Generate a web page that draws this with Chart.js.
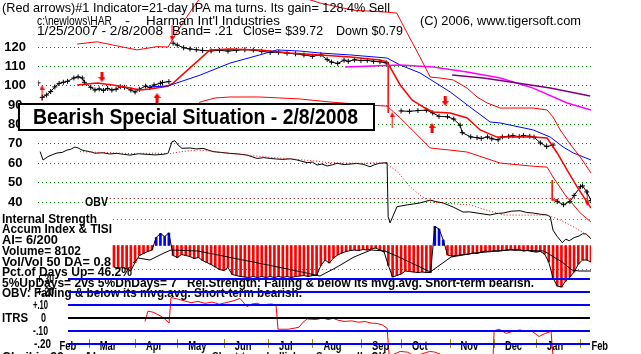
<!DOCTYPE html>
<html>
<head>
<meta charset="utf-8">
<script src="https://cdn.jsdelivr.net/npm/chart.js@4.4.1/dist/chart.umd.min.js"></script>
<style>
  html, body { margin: 0; padding: 0; background: #fff; }
</style>
</head>
<body>
<canvas id="chart" width="641" height="354"></canvas>
<script>
const FONT = '"Liberation Sans", Arial, sans-serif';

// x values are trading days counted from 1/25/2007 (0) to 2/8/2008 (262)
const months = ['Feb', 'Mar', 'Apr', 'May', 'Jun', 'Jul', 'Aug', 'Sep', 'Oct', 'Nov', 'Dec', 'Jan', 'Feb'];
const monthStarts = [5, 24, 46, 66, 88, 109, 130, 153, 172, 195, 216, 236, 257];

const priceTicks = [40, 50, 60, 70, 80, 90, 100, 110, 120];
const itrsTicks = [0.3, 0.2, 0.1, 0, -0.1, -0.2];
const itrsTickLabels = ['+.30', '+.20', '+.10', '0', '-.10', '-.20'];

// daily price (null = gap between bars)
const pricePoints = [
  [0, 101.5], [1, null], [2, 94], [4, 95.2], [6, 97], [8, 99.4], [10, 101.2], [12, 101.8], [14, 102.3],
  [17, 104], [19, 104.6], [21, 104], [22, 101.8], [25, 99.2], [27, 97.8], [29, 98.4], [31, 97.6],
  [33, 98.6], [35, 97.8], [37, 98.2], [39, 99.5], [41, 99.2], [44, 97.8], [46, 96.8], [48, 98.2],
  [51, 99.8], [53, 99.1], [55, 100.4], [58, 101.3], [59, 101.7], [62, 102.1], [62.5, null],
  [64, 122], [66, 121], [69, 119.6], [72, 119], [75, 118.6], [78, 118.2], [82, 118], [86, 118.3],
  [90, 117.9], [94, 118.3], [98, 118.6], [102, 118.4], [106, 117.8], [110, 117.2], [114, 117.3],
  [118, 116.8], [122, 116.5], [126, 115.9], [130, 115.2], [134, 116], [137, 113.5], [139, 112.2],
  [142, 111.5], [145, 113.2], [147, 112.6], [150, 113.4], [153, 113], [156, 113.1], [159, 112.6],
  [162, 112.4], [165, 111.8], [166, null],
  [172, 87], [176, 86.8], [180, 87.2], [184, 87.4], [187, 86], [190, 84.2], [194, 84], [197, 82.8],
  [200, 79.6], [201, 75.8], [205, 73.6], [208, 73.2], [210, 72.8], [213, 73.6], [215, 72.6],
  [218, 72.1], [220, 73.6], [223, 73.9], [225, 74.2], [228, 73.8], [230, 74.3], [233, 73.9],
  [235, 73.5], [238, 70.5], [241, 68.6], [244, 69.4], [245, null],
  [246, 40.2], [249, 38.6], [252, 40.2], [254, 43.4], [257, 47.9], [258, 48.3], [260, 45.2], [262, 40.8]
];

// 21-day ma and its +/- .21 band
const maPoints = [
  [18.5, 100.4], [28, 101.4], [35.5, 100.4], [43.6, 98.8], [48.3, 97.8], [53, 98.3], [59.2, 99.4],
  [61.6, 99.9], [64, 101.4], [72, 109.2], [81.5, 118.5], [91, 119], [105, 118.5], [119.4, 116.9],
  [133.6, 115.9], [148, 114.8], [162, 113.3], [165.4, 112.3], [171.6, 100.4], [177.3, 92.6],
  [183.4, 88.5], [187.2, 86.5], [195.3, 85.9], [203.3, 83.4], [209.5, 77.2], [217.5, 73.5],
  [226, 73.5], [234.6, 73.5], [241.2, 73], [246, 65.3], [250.7, 56.5], [255.5, 47.7], [262, 36.9]
];
const upperPoints = [
  [18.5, 121.5], [28, 122.7], [35.5, 121], [47, 118.5], [56.4, 120.2], [61.6, 120], [66.4, 128.8],
  [72, 138], [76.8, 145.3], [91, 148.4], [105, 148], [124, 146], [133.6, 142.7], [149.3, 139],
  [165.4, 138], [170, 137.5], [174.9, 127.2], [181, 114.8], [185.8, 104.5], [190.5, 104],
  [196.7, 103], [203.3, 98.8], [208, 94.2], [212.8, 91.1], [219, 88.5], [234.6, 88.5], [241.2, 87.5],
  [244, 83.9], [247.4, 77.2], [252.1, 69.9], [256.9, 63.2], [262, 55]
];
const lowerPoints = [
  [18.5, 79.2], [35.5, 78.2], [53, 79.2], [62.6, 79.7], [72, 84.9], [76.8, 91.6], [83.9, 93.7],
  [91, 94.2], [105, 94.2], [124, 93.2], [138.4, 91.6], [157.3, 90], [165.4, 89.5], [171.6, 83.4],
  [185.8, 67.9], [195.3, 66.8], [203.3, 65.8], [219, 60.1], [233, 58.6], [241.2, 58], [244, 52.9],
  [249.8, 43.6], [256.9, 34.3], [262, 29.7]
];
const blueMaPoints = [
  [53, 99.4], [61.6, 99.9], [76.8, 105.5], [91, 111.7], [105, 115.9], [113.3, 118.5], [124.2, 117.9],
  [133.6, 116.9], [148, 115.9], [165.4, 114.3], [171.6, 110.7], [181, 106.6], [195.3, 96.8],
  [204.7, 89], [214.2, 81.3], [219, 80.8], [234.6, 77.2], [242.7, 73.5], [248.8, 68.4],
  [253.6, 65.3], [262, 61.7]
];
const magentaMaPoints = [
  [145.5, 109.7], [171.6, 110.7], [187.2, 109.7], [203.3, 107.1], [219, 104], [234.6, 98.8],
  [250.7, 91.1], [262, 87.5]
];
const purpleMaPoints = [
  [196.2, 105.5], [211, 104], [227, 101.4], [242.7, 98.8], [261.6, 94.7]
];

// OBV (scaled to the price axis) and its moving average
const obvPoints = [
  [1, 66], [2.4, 61.7], [4.7, 63.4], [7, 64.5], [9, 65.3], [11.5, 65.6], [13.7, 66.8], [15.5, 67.2],
  [17.5, 68.4], [19, 67.9], [20.9, 66.8], [22.5, 66.4], [24.6, 66], [27, 65.2], [30.8, 65.4],
  [34, 64.8], [37.4, 65.1], [40.5, 64.6], [43.6, 64.2], [47.6, 64.9], [51.7, 64.6], [55.5, 64.3],
  [59.2, 64.6], [61.6, 65.1], [63.5, 71.1], [64.9, 71.6], [66.4, 69.4], [68.2, 67.7], [72, 67.9],
  [75, 67.4], [78.2, 67.7], [82.9, 66], [86.5, 65.6], [91, 65.1], [95, 64.8], [99, 64.2],
  [103.8, 62.5], [107, 62.9], [110, 62.5], [113, 62.2], [116, 62], [119.5, 62.3], [122.7, 61.7],
  [127.5, 60.3], [130, 60.6], [132.2, 59.1], [134.5, 59.6], [137, 58.6], [139.5, 59.2], [141.7, 60],
  [145, 59.3], [147.9, 59.6], [151, 59.9], [154, 59.5], [157.3, 58.2], [159.5, 59.3], [162, 60],
  [165.4, 60.3], [165.9, 32.4], [166.8, 29.2], [170.1, 37.6], [174.9, 38.5], [178, 39], [181, 39.5],
  [185.8, 41], [188.5, 40.2], [191.9, 39.5], [196.7, 37.4], [201.4, 34.8], [204.5, 34.9], [208, 34.3],
  [214.2, 33.3], [217.5, 34.1], [220.4, 34.3], [224.5, 35.3], [228.4, 35.5], [231.5, 34.6],
  [234.6, 34.3], [238, 33.7], [241.2, 33.3], [242.7, 32.4], [244, 25.5], [246, 22.2], [248.4, 19],
  [250, 20.8], [251.7, 20], [254, 21.6], [256.4, 22.5], [258, 23.6], [259.7, 23.5], [262, 21]
];
const obvMaPoints = [
  [19.9, 66], [30, 65.6], [43.6, 65], [55, 65.2], [62.6, 65], [68, 66], [75.4, 66.8], [83, 66.2],
  [91, 65], [98, 64.4], [106.6, 63.4], [114, 62.7], [122.7, 62], [130, 61.3], [138.4, 60.3],
  [146, 60.1], [154, 60], [160, 60.2], [164.5, 60], [170, 56], [176.3, 47.9], [181, 43.5],
  [185.8, 40], [195, 39.2], [204.7, 38.5], [212, 36], [220.4, 33.3], [230, 33.2], [241.2, 33.3],
  [247.4, 30.7], [254, 27], [261.6, 22]
];

// Accumulation index, every 2nd trading day from day 36
const aiStart = 36;
const aiStep = 2;
const aiValues = [
  -0.215, -0.23, -0.22, -0.235, -0.25, -0.17, -0.10, -0.08, -0.06, -0.045,
  0.08, 0.12, 0.09, 0.125, -0.10, -0.12, -0.09, -0.10, -0.11, -0.13,
  -0.12, -0.15, -0.17, -0.19, -0.215, -0.24, -0.25, -0.22, -0.29, -0.30,
  -0.31, -0.315, -0.32, -0.31, -0.32, -0.31, -0.32, -0.31, -0.32, -0.31,
  -0.32, -0.31, -0.32, -0.31, -0.305, -0.30, -0.31, -0.30, -0.30, -0.20,
  -0.145, -0.175, -0.125, -0.095, -0.075, -0.06, -0.05, -0.045, -0.05, -0.04,
  -0.045, -0.035, -0.025, -0.045, -0.065, -0.20, -0.315, -0.30, -0.285, -0.255,
  -0.26, -0.265, -0.27, -0.265, -0.27, -0.27, 0.19, 0.165, 0.055, -0.095,
  -0.105, -0.10, -0.095, -0.09, -0.085, -0.075, -0.08, -0.065, -0.055, -0.06,
  -0.05, -0.055, -0.05, -0.045, -0.04, -0.045, -0.04, -0.055, -0.05, -0.06,
  -0.065, -0.06, -0.085, -0.165, -0.325, -0.405, -0.415, -0.355, -0.315, -0.265,
  -0.185, -0.145, -0.145, -0.165
];
const tisiPoints = [
  [45, -0.175], [47.4, -0.125], [53, -0.145], [59.7, -0.075], [63, -0.045], [75.8, -0.055],
  [92.4, -0.125], [109, -0.195], [125, -0.265], [133.6, -0.305], [141.7, -0.215], [149.7, -0.115],
  [157.8, -0.045], [164.4, -0.055], [171, -0.115], [181, -0.215], [185.8, -0.265], [189.1, -0.215],
  [195.7, -0.115], [207, -0.075], [223.6, -0.045], [239.7, -0.055], [248.3, -0.165], [253, -0.245],
  [256.4, -0.255], [262, -0.255]
];

// ITRS (relative strength)
const itrsPoints = [
  [50.7, -0.024], [52.1, 0.055], [54.5, 0.047], [57.8, 0.02], [59.7, 0], [62.1, -0.037],
  [63, 0.16], [66.4, 0.147], [72.5, 0.12], [75.8, 0.13], [79.1, 0.115], [82.5, 0.125], [85.8, 0.108],
  [89.1, 0.12], [92.4, 0.134], [95.7, 0.153], [99, 0.09], [101.4, 0.11], [103.8, 0.116], [106.2, 0.1],
  [109, 0.108], [110.9, 0.11], [112.8, 0.1], [113.7, -0.084], [118.5, -0.084], [121.8, -0.075],
  [123.7, -0.068], [125.6, -0.03], [127.5, -0.005], [131.8, -0.01], [135, 0.003], [137.4, -0.01],
  [139.8, 0], [142.2, -0.015], [145, -0.024], [148.8, -0.02], [151.7, -0.03], [155, -0.025],
  [157.8, -0.037], [160.7, -0.04], [163, -0.05], [165.4, -0.076], [166.4, -0.29], [168, -0.28],
  [171.6, -0.255], [175, -0.26], [178.5, -0.29], [185.6, -0.255], [188, -0.26], [192.7, -0.29],
  [209.5, -0.3], [215.6, -0.3], [216.1, -0.095], [218.5, -0.084], [221.8, -0.116], [225.1, -0.1],
  [228.4, -0.09], [230.8, -0.1], [233.6, -0.095], [237.4, -0.14], [239.8, -0.12], [243.1, -0.1],
  [244.1, -0.32]
];

// signal markers (red arrows)
const arrowDown = [[30.3, 104.5], [192.9, 92.1]];
const arrowUp = [[56.4, 93.7], [186.7, 78.2]];
const thinDown = [[63.5, 127.2], [260.2, 42]];
const thinUp = [[1.9, 96.3], [167.8, 82.3]];
const signalLines = [[165.9, 112.3], [165.9, 86], [166, null], [243.6, 51.4], [243.6, 41], [246.5, 41]];

const pts = arr => arr.map(([x, y]) => ({ x, y }));

function arrowCanvas(up, thin) {
  const c = document.createElement('canvas');
  c.width = thin ? 5 : 7;
  c.height = thin ? 16 : 10;
  const g = c.getContext('2d');
  g.fillStyle = '#ff0000';
  if (up) { g.translate(0, c.height); g.scale(1, -1); }
  if (thin) {
    g.fillRect(2, 0, 1, 12);
    g.beginPath(); g.moveTo(0, 11); g.lineTo(5, 11); g.lineTo(2.5, 16); g.fill();
  } else {
    g.fillRect(2, 0, 3, 6);
    g.beginPath(); g.moveTo(0, 5); g.lineTo(7, 5); g.lineTo(3.5, 10); g.fill();
  }
  return c;
}

function fitText(ctx, s, x, y, w, size, bold) {
  ctx.save();
  ctx.font = (bold ? 'bold ' : '') + size + 'px ' + FONT;
  ctx.fillStyle = '#000';
  ctx.textBaseline = 'middle';
  ctx.textAlign = 'left';
  const m = ctx.measureText(s).width;
  ctx.translate(x, y);
  ctx.scale(w / m, 1);
  ctx.fillText(s, 0, 0);
  ctx.restore();
}

// text placed on the picture: [text, x, y, width, size, bold]
const notes = [
  ['(Red arrows)#1 Indicator=21-day IPA ma turns. Its gain= 128.4% Sell', 2, 8, 388, 13, false],
  ['c:\\newlows\\HAR', 37, 21, 75, 13, false],
  ['-', 125, 21, 5, 13, false],
  ["Harman Int'l Industries", 146, 21, 134, 13, false],
  ['1/25/2007 - 2/8/2008', 37, 31, 126, 13, false],
  ['Band= .21', 172, 31, 61, 13, false],
  ['Close= $39.72', 243, 31, 80, 13, false],
  ['Down $0.79', 336, 31, 67, 13, false],
  ['(C) 2006, www.tigersoft.com', 420, 21, 161, 13, false],
  ['OBV', 85, 202, 23, 13, true],
  ['Internal Strength', 2, 219, 95, 13, true],
  ['Accum Index & TISI', 2, 229, 110, 13, true],
  ['AI= 6/200', 2, 240, 56, 13, true],
  ['Volume= 8102', 2, 251, 79, 13, true],
  ['Vol/Vol 50 DA= 0.8', 2, 262, 109, 13, true],
  ['Pct.of Days Up= 46.2%', 2, 272, 130, 13, true],
  ['5%UpDays= 2vs 5%DnDays= 7', 2, 283, 175, 13, true],
  ['Rel.Strength: Falling & below its mvg.avg. Short-term bearish.', 187, 283, 347, 13, true],
  ['OBV: Falling & below its mvg.avg. Short-term bearish.', 2, 293, 300, 13, true],
  ['ITRS', 2, 318, 26, 13, true],
  ['Chaikin 20', 2, 357, 62, 13, true],
  ['Al', 84, 357, 12, 13, true],
  ['Short-term bullish.', 212, 357, 90, 13, true],
  ['Seasonally OK', 316, 357, 70, 13, true]
];
const itrsLabelRight = [54, 54, 48, 46, 48, 51];
const itrsLabelWidth = [17, 17, 15, 5, 15, 17];

const dottedRefs = [
  { axis: 'y', value: 42.06, from: 34, to: 262, color: '#800000' },
  { axis: 'yAI', value: 0.265, from: 35.5, to: 262, color: '#707070' },
  { axis: 'yAI', value: -0.235, from: 43.6, to: 262, color: '#a06060' }
];

const tigerPlugin = {
  id: 'tiger',
  beforeDatasetsDraw(chart) {
    const { ctx, scales } = chart;
    dottedRefs.forEach(r => {
      const y = Math.round(scales[r.axis].getPixelForValue(r.value)) + 0.5;
      ctx.save();
      ctx.strokeStyle = r.color;
      ctx.lineWidth = 1;
      ctx.setLineDash([1, 3]);
      ctx.beginPath();
      ctx.moveTo(scales.x.getPixelForValue(r.from), y);
      ctx.lineTo(scales.x.getPixelForValue(r.to), y);
      ctx.stroke();
      ctx.restore();
    });
  },
  afterDatasetsDraw(chart) {
    const { ctx, scales } = chart;
    const xs = scales.x;

    // the headline box
    ctx.save();
    ctx.fillStyle = '#fff';
    ctx.fillRect(19, 104, 355, 26);
    ctx.strokeStyle = '#000';
    ctx.lineWidth = 2;
    ctx.strokeRect(19, 104, 355, 26);
    ctx.restore();
    fitText(ctx, 'Bearish Special Situation - 2/8/2008', 33, 118, 325, 22, true);

    notes.forEach(n => fitText(ctx, ...n));

    // ITRS scale labels
    itrsTicks.forEach((v, i) => {
      const y = scales.yItrs.getPixelForValue(v);
      fitText(ctx, itrsTickLabels[i], itrsLabelRight[i] - itrsLabelWidth[i], y, itrsLabelWidth[i], 13, true);
    });

    // month labels and ticks
    months.forEach((m, i) => {
      const px = xs.getPixelForValue(monthStarts[i]);
      ctx.save();
      ctx.font = 'bold 13px ' + FONT;
      ctx.fillStyle = '#000';
      ctx.textBaseline = 'middle';
      ctx.translate(px + 11, 346);
      ctx.scale(0.72, 1);
      ctx.fillText(m, 0, 0);
      ctx.restore();
      if (i > 0) {
        ctx.save();
        ctx.strokeStyle = '#a09000';
        ctx.lineWidth = 1;
        ctx.beginPath();
        ctx.moveTo(Math.round(px) + 0.5, 339);
        ctx.lineTo(Math.round(px) + 0.5, 348);
        ctx.stroke();
        ctx.restore();
      }
    });

    // ITRS level lines
    const x0 = xs.getPixelForValue(14.2), x1 = xs.getPixelForValue(261.5);
    itrsTicks.forEach(v => {
      const y = Math.round(scales.yItrs.getPixelForValue(v));
      ctx.save();
      ctx.strokeStyle = v === 0 ? '#000' : '#0000ff';
      ctx.lineWidth = 2;
      ctx.beginPath();
      ctx.moveTo(x0, y);
      ctx.lineTo(x1, y);
      ctx.stroke();
      ctx.restore();
    });
  }
};

const line = (data, color, extra) => Object.assign({
  type: 'line', data: pts(data), borderColor: color, borderWidth: 1,
  pointRadius: 0, tension: 0, yAxisID: 'y'
}, extra || {});

const arrowSet = (data, img) => ({
  type: 'line', data: pts(data), showLine: false, pointRadius: 5,
  pointStyle: img, yAxisID: 'y', clip: false
});

new Chart(document.getElementById('chart'), {
  type: 'line',
  data: {
    datasets: [
      {
        type: 'bar',
        data: aiValues.map((v, i) => ({ x: aiStart + aiStep * i, y: v })),
        backgroundColor: aiValues.map(v => v < 0 ? '#ff0000' : '#0000ff'),
        barThickness: 2,
        grouped: false,
        yAxisID: 'yAI',
        order: 10
      },
      line(aiValues.map((v, i) => [aiStart + aiStep * i, v]), '#000', { yAxisID: 'yAI' }),
      line(tisiPoints, '#000', { yAxisID: 'yAI' }),
      line(lowerPoints, '#ff0000'),
      line(upperPoints, '#ff0000', { clip: false }),
      line(purpleMaPoints, '#800080', { borderWidth: 1.5 }),
      line(magentaMaPoints, '#ff00ff', { borderWidth: 1.5 }),
      line(blueMaPoints, '#0000ff'),
      line(maPoints, '#ff0000', { borderWidth: 1.5 }),
      line(obvMaPoints, '#ff0000', { borderDash: [1, 2] }),
      line(obvPoints, '#000'),
      line(pricePoints, '#000', {
        pointRadius: 2.5, pointStyle: 'cross', pointBorderColor: '#000', pointBorderWidth: 1
      }),
      line(signalLines, '#ff0000', { borderWidth: 1.5 }),
      arrowSet(arrowDown, arrowCanvas(false, false)),
      arrowSet(arrowUp, arrowCanvas(true, false)),
      arrowSet(thinDown, arrowCanvas(false, true)),
      arrowSet(thinUp, arrowCanvas(true, true)),
      line(itrsPoints, '#ff0000', { yAxisID: 'yItrs', clip: false })
    ]
  },
  options: {
    responsive: false,
    animation: false,
    events: [],
    layout: { padding: { left: 0, right: 50, top: 10, bottom: 10 } },
    plugins: { legend: { display: false }, tooltip: { enabled: false } },
    scales: {
      x: { type: 'linear', min: 0, max: 262, offset: false, display: false },
      y: {
        position: 'left',
        min: -33.29,
        max: 139.10,
        afterBuildTicks: s => { s.ticks = priceTicks.map(v => ({ value: v })); },
        afterFit: s => { s.width = 38; s.paddingTop = 0; s.paddingBottom = 0; },
        ticks: {
          color: '#000',
          padding: 12,
          crossAlign: 'center',
          font: { family: FONT, size: 13, weight: 'bold' }
        },
        grid: { color: '#008000', drawTicks: false },
        border: { display: false, dash: [1, 3] }
      },
      yItrs: { display: false, min: -0.1977, max: 2.3715 },
      yAI: { display: false, min: -0.985, max: 2.355 }
    }
  },
  plugins: [tigerPlugin]
});
</script>
</body>
</html>
